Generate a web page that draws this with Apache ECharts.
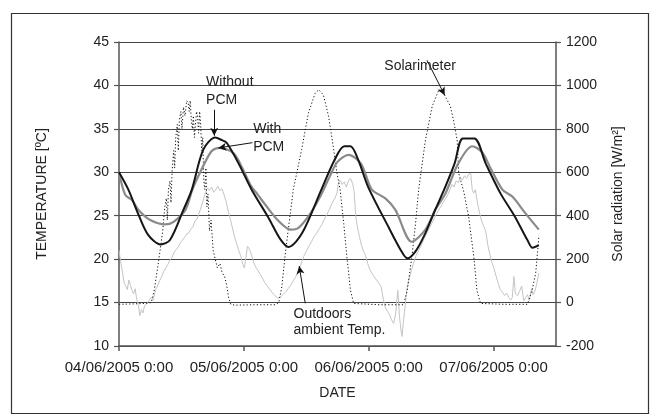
<!DOCTYPE html>
<html>
<head>
<meta charset="utf-8">
<script src="https://cdn.jsdelivr.net/npm/echarts@6/dist/echarts.min.js"></script>
<style>
html,body{margin:0;padding:0;background:#fff;}
#c{width:655px;height:416px;}
</style>
</head>
<body>
<div id="c"></div>
<script>
// x values are hours since 04/06/2005 0:00
var xTickLabels = ['04/06/2005 0:00', '05/06/2005 0:00', '06/06/2005 0:00', '07/06/2005 0:00'];

var withoutPcmHours = [0, 1.8, 3.7, 5.6, 8.0, 9.8, 12.4, 14.0, 16.2, 18.5, 19.8, 20.7, 23.0, 25.5, 28.7, 31.0, 32.6, 35.2, 38.9, 41.5, 43.3, 44.5, 46.0, 47.9, 51.8, 54.2, 55.4, 57.0, 58.9, 60.8, 62.7, 64.5, 66.1, 68.3, 70.5, 73.3, 76.0, 78.5, 79.5, 80.7];
var withoutPcmTemp  = [30.0, 28.0, 25.2, 22.8, 21.7, 22.2, 25.7, 28.0, 32.6, 34.0, 33.7, 33.4, 31.0, 28.0, 24.8, 22.3, 21.4, 23.0, 28.0, 31.5, 33.0, 33.0, 31.4, 28.3, 23.7, 21.0, 20.1, 20.9, 23.0, 25.7, 28.3, 31.0, 33.9, 33.9, 31.0, 27.6, 25.0, 22.2, 21.3, 21.6];

var withPcmHours = [0, 1.2, 2.5, 3.7, 6.0, 8.9, 10.5, 12.8, 14.1, 15.6, 17.3, 18.1, 19.4, 22.0, 23.7, 25.3, 26.7, 28.2, 30.5, 33.0, 34.5, 36.5, 38.5, 40.5, 42.0, 44.1, 46.5, 48.6, 51.2, 53.1, 56.3, 58.9, 60.8, 62.7, 65.2, 67.9, 69.8, 71.4, 73.7, 75.6, 78.1, 80.7];
var withPcmTemp  = [30.0, 27.4, 26.8, 25.7, 24.5, 24.0, 24.3, 25.7, 28.0, 30.0, 32.0, 32.6, 32.8, 32.2, 30.5, 28.5, 27.4, 26.2, 24.5, 23.4, 23.6, 25.0, 27.0, 29.5, 31.2, 32.0, 31.0, 28.0, 27.0, 25.7, 22.0, 23.4, 25.7, 27.5, 31.0, 33.0, 32.3, 30.5, 28.0, 27.2, 25.3, 23.4];

var outdoorHours = [0, 0.3, 0.7, 1.0, 1.3, 1.6, 1.9, 2.2, 2.5, 2.8, 3.1, 3.4, 3.7, 4.0, 4.3, 4.6, 4.9, 5.2, 5.5, 5.8, 6.2, 6.6, 7.0, 7.4, 7.8, 8.2, 8.6, 9.0, 9.4, 9.8, 10.2, 10.6, 11.0, 11.4, 11.8, 12.2, 12.6, 13.0, 13.4, 13.8, 14.2, 14.6, 15.0, 15.4, 15.8, 16.2, 16.6, 17.0, 17.4, 17.8, 18.2, 18.6, 19.0, 19.4, 19.8, 20.2, 20.6, 21.0, 21.4, 21.8, 22.2, 22.6, 23.0, 23.4, 23.8, 24.1, 24.4, 24.7, 25.0, 25.3, 25.7, 26.1, 26.5, 27.0, 27.5, 28.0, 28.5, 29.0, 29.5, 30.0, 30.5, 31.0, 31.5, 32.0, 32.5, 33.0, 33.5, 34.0, 34.5, 35.0, 35.5, 36.0, 36.5, 37.0, 37.5, 38.0, 38.5, 39.0, 39.5, 40.0, 40.5, 41.0, 41.5, 41.9, 42.2, 42.5, 42.9, 43.3, 43.7, 44.1, 44.5, 44.9, 45.2, 45.5, 45.8, 46.2, 46.6, 47.0, 47.4, 47.8, 48.2, 48.6, 49.0, 49.5, 50.0, 50.4, 50.8, 51.2, 51.6, 52.0, 52.4, 52.8, 53.2, 53.6, 53.9, 54.2, 54.4, 54.7, 55.0, 55.3, 55.7, 56.1, 56.6, 57.1, 57.6, 58.1, 58.6, 59.1, 59.6, 60.1, 60.6, 61.1, 61.6, 62.1, 62.6, 63.1, 63.6, 64.0, 64.4, 64.8, 65.2, 65.6, 66.0, 66.4, 66.8, 67.2, 67.6, 67.9, 68.2, 68.5, 68.9, 69.3, 69.7, 70.1, 70.5, 70.9, 71.3, 71.7, 72.1, 72.5, 72.9, 73.3, 73.7, 74.1, 74.5, 74.9, 75.3, 75.6, 75.9, 76.2, 76.6, 77.0, 77.4, 77.8, 78.1, 78.5, 78.9, 79.3, 79.6, 80.0, 80.3, 80.7];
var outdoorTemp  = [21.0, 19.8, 18.4, 17.2, 16.9, 16.5, 17.6, 17.0, 16.4, 16.0, 16.6, 15.4, 14.8, 13.5, 14.2, 13.8, 14.6, 14.4, 15.0, 14.8, 15.6, 15.3, 16.4, 16.9, 17.5, 18.0, 18.6, 19.0, 19.4, 19.9, 20.2, 20.8, 21.1, 21.4, 21.9, 22.2, 22.5, 22.9, 23.0, 23.5, 23.7, 24.4, 24.6, 25.3, 26.0, 26.8, 27.6, 28.2, 27.9, 28.3, 27.7, 28.0, 28.4, 27.9, 28.1, 27.4, 26.6, 25.5, 24.6, 23.6, 22.6, 21.8, 21.0, 20.4, 19.4, 19.0, 20.2, 21.5, 21.2, 20.8, 20.0, 19.3, 18.9, 18.4, 17.9, 17.3, 16.9, 16.5, 16.1, 15.8, 15.5, 15.6, 15.9, 16.2, 16.6, 17.0, 17.5, 18.0, 18.7, 19.4, 20.3, 20.9, 21.5, 22.0, 22.6, 23.0, 23.5, 24.0, 24.6, 25.2, 25.8, 26.5, 27.0, 27.6, 28.8, 29.1, 28.6, 28.9, 28.3, 29.0, 29.3, 28.7, 27.8, 25.0, 23.8, 22.6, 21.6, 20.9, 20.4, 19.5, 18.8, 18.4, 18.0, 17.6, 17.2, 16.8, 15.4, 14.4, 14.0, 13.6, 13.0, 12.6, 13.8, 16.4, 13.5, 11.8, 11.1, 13.0, 14.6, 16.4, 17.6, 18.5, 19.5, 20.4, 21.0, 21.6, 22.3, 22.9, 23.5, 24.1, 24.7, 25.3, 25.8, 26.3, 26.8, 27.3, 28.0, 28.6, 28.3, 29.0, 28.8, 29.4, 29.1, 29.6, 29.3, 29.8, 29.9, 28.0, 27.6, 28.0, 26.5, 25.3, 24.4, 23.8, 23.2, 21.6, 20.5, 19.6, 18.9, 18.0, 17.2, 16.5, 16.2, 15.8, 16.1, 15.6, 15.3, 15.6, 18.0, 16.0, 15.8, 16.3, 16.9, 15.2, 15.0, 15.9, 15.3, 16.6, 15.9, 16.4, 17.2, 18.4];

var solarHours = [0, 3.0, 5.5, 6.2, 6.8, 7.3, 7.9, 8.4, 8.8, 9.1, 9.3, 9.5, 9.8, 10.0, 10.2, 10.5, 10.7, 10.9, 11.2, 11.4, 11.6, 11.9, 12.1, 12.4, 12.7, 13.0, 13.3, 13.5, 13.7, 13.9, 14.1, 14.3, 14.5, 14.7, 14.9, 15.1, 15.3, 15.5, 15.7, 15.9, 16.1, 16.3, 16.5, 16.7, 16.9, 17.1, 17.4, 17.7, 18.1, 18.5, 18.9, 19.4, 19.8, 20.3, 20.7, 21.1, 21.5, 22.3, 26.0, 30.0, 30.7, 31.3, 31.9, 32.6, 33.5, 35.1, 36.4, 37.7, 38.4, 39.3, 40.3, 41.2, 41.9, 42.5, 43.2, 43.8, 44.5, 45.1, 50.0, 54.7, 55.4, 56.3, 57.0, 57.6, 58.9, 60.2, 61.5, 62.4, 63.7, 64.3, 65.0, 65.3, 66.3, 67.2, 68.2, 68.8, 69.5, 74.0, 78.5, 79.4, 80.1, 80.7];
var solarWm2   = [-8, -6, -3, 0, 60, 140, 240, 330, 440, 480, 380, 520, 560, 460, 600, 700, 620, 760, 820, 700, 840, 880, 800, 900, 860, 930, 920, 880, 930, 840, 800, 860, 760, 820, 880, 860, 780, 880, 820, 700, 760, 560, 520, 620, 440, 500, 330, 380, 240, 200, 160, 180, 140, 120, 80, 20, -8, -12, -10, -10, 0, 72, 212, 348, 520, 704, 872, 964, 980, 956, 856, 716, 596, 520, 364, 212, 56, -4, -10, -10, 56, 212, 364, 520, 748, 904, 980, 964, 904, 840, 748, 596, 508, 396, 212, 56, -4, -8, -8, 56, 136, 300];

function zip(a, b) { var r = []; for (var i = 0; i < a.length; i++) r.push([a[i], b[i]]); return r; }

var FONT = '"Liberation Sans", Arial, sans-serif';
var TXT = '#222';
var chart = echarts.init(document.getElementById('c'), null, {renderer: 'canvas'});

var option = {
  animation: false,
  backgroundColor: '#fff',
  grid: {left: 119, right: 99, top: 42, bottom: 70, containLabel: false},
  xAxis: {
    type: 'value', min: 0, max: 84, interval: 24,
    name: 'DATE', nameLocation: 'middle', nameGap: 40,
    nameTextStyle: {fontFamily: FONT, fontSize: 14, color: TXT},
    axisLine: {show: true, onZero: false, lineStyle: {color: '#555', width: 1.5}},
    axisTick: {show: true, inside: false, length: 5, customValues: [0, 24, 48, 72], lineStyle: {color: '#555', width: 1.5}},
    axisLabel: {show: true, margin: 14, fontFamily: FONT, fontSize: 15, color: TXT,
      customValues: [0, 24, 48, 72],
      formatter: function (v) { return xTickLabels[Math.round(v / 24)] || ''; }},
    splitLine: {show: false}
  },
  yAxis: [{
    type: 'value', min: 10, max: 45, interval: 5,
    name: 'TEMPERATURE [ºC]', nameLocation: 'middle', nameGap: 70, nameRotate: 90,
    nameTextStyle: {fontFamily: FONT, fontSize: 14, color: TXT},
    axisLine: {show: true, lineStyle: {color: '#555', width: 1.5}},
    axisTick: {show: true, inside: false, length: 5, lineStyle: {color: '#555', width: 1.2}},
    axisLabel: {margin: 10, fontFamily: FONT, fontSize: 14, color: TXT, formatter: function (v) { return String(v); }},
    splitLine: {show: true, lineStyle: {color: '#444', width: 1}}
  }, {
    type: 'value', min: -200, max: 1200, interval: 200, position: 'right',
    name: 'Solar radiation [W/m²]', nameLocation: 'middle', nameGap: 55, nameRotate: 90,
    nameTextStyle: {fontFamily: FONT, fontSize: 14, color: TXT},
    axisLine: {show: true, lineStyle: {color: '#555', width: 1.5}},
    axisTick: {show: true, inside: false, length: 5, lineStyle: {color: '#555', width: 1.2}},
    axisLabel: {margin: 10, fontFamily: FONT, fontSize: 14, color: TXT, formatter: function (v) { return String(v); }},
    splitLine: {show: false}
  }],
  series: [{
    name: 'Outdoors ambient Temp.', type: 'line', yAxisIndex: 0, symbol: 'none',
    data: zip(outdoorHours, outdoorTemp),
    lineStyle: {color: '#c4c4c4', width: 1}, z: 2
  }, {
    name: 'Solarimeter', type: 'line', yAxisIndex: 1, symbol: 'none',
    data: zip(solarHours, solarWm2),
    lineStyle: {color: '#111', width: 1, type: [1.2, 2.2]}, z: 3,
    markLine: {
      silent: true, symbol: ['none', 'arrow'], symbolSize: [6, 8],
      label: {show: false}, lineStyle: {color: '#111', width: 1, type: 'solid'},
      data: [
        [{coord: [59.2, 1116]}, {coord: [62.6, 955]}]
      ]
    }
  }, {
    name: 'With PCM', type: 'line', yAxisIndex: 0, symbol: 'none', smooth: 0.3,
    data: zip(withPcmHours, withPcmTemp),
    lineStyle: {color: '#8a8a8a', width: 2.2}, z: 4,
    markLine: {
      silent: true, symbol: ['none', 'arrow'], symbolSize: [6, 8],
      label: {show: false}, lineStyle: {color: '#111', width: 1, type: 'solid'},
      data: [
        [{coord: [25.65, 33.41]}, {coord: [19.1, 32.8]}],
        [{coord: [35.8, 14.92]}, {coord: [34.64, 19.2]}]
      ]
    }
  }, {
    name: 'Without PCM', type: 'line', yAxisIndex: 0, symbol: 'none', smooth: 0.3,
    data: zip(withoutPcmHours, withoutPcmTemp),
    lineStyle: {color: '#161616', width: 2}, z: 5,
    markLine: {
      silent: true, symbol: ['none', 'arrow'], symbolSize: [6, 8],
      label: {show: false}, lineStyle: {color: '#111', width: 1, type: 'solid'},
      data: [
        [{coord: [18.3, 37.2]}, {coord: [18.3, 34.2]}]
      ]
    }
  }]
};
chart.setOption(option);

// annotation texts anchored in data coordinates (top-left of text block)
var notes = [
  {text: 'Without\nPCM', at: [16.74, 41.4], lh: 18},
  {text: 'With\nPCM', at: [25.79, 35.95], lh: 18},
  {text: 'Solarimeter', at: [51.0, 43.1], lh: 16},
  {text: 'Outdoors\nambient Temp.', at: [33.55, 14.55], lh: 16}
];
var g = notes.map(function (n) {
  var p = chart.convertToPixel({xAxisIndex: 0, yAxisIndex: 0}, n.at);
  return {type: 'text', x: p[0], y: p[1], z: 100,
    style: {text: n.text, fill: TXT, font: '14px ' + FONT, lineHeight: n.lh, textVerticalAlign: 'top'}};
});
g.push({type: 'rect', z: 0, shape: {x: 11.5, y: 13.5, width: 637, height: 400},
  style: {fill: 'none', stroke: '#333', lineWidth: 1.2}});
chart.setOption({graphic: g});
</script>
</body>
</html>
